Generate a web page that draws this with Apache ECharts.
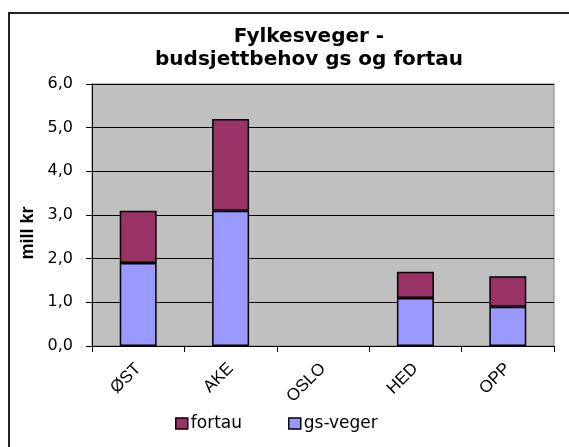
<!DOCTYPE html>
<html>
<head>
<meta charset="utf-8">
<script src="https://cdn.jsdelivr.net/npm/echarts@6/dist/echarts.min.js"></script>
<style>
html,body{margin:0;padding:0;background:#fff;}
#c{width:569px;height:447px;}
</style>
</head>
<body>
<div id="c"></div>
<script>
var categories = ['ØST', 'AKE', 'OSLO', 'HED', 'OPP'];
var gsVeger = [1.9, 3.1, null, 1.1, 0.9];
var fortau = [1.2, 2.1, null, 0.6, 0.7];
var seriesNames = ['fortau', 'gs-veger'];
var titleText = 'Fylkesveger -\nbudsjettbehov gs og fortau';
var yAxisName = 'mill kr';

var chart = echarts.init(document.getElementById('c'), null, {renderer: 'canvas'});
chart.setOption({
  animation: false,
  backgroundColor: '#fff',
  graphic: [{
    type: 'rect',
    shape: {x: 9, y: 13, width: 620, height: 500},
    style: {fill: 'none', stroke: '#222', lineWidth: 2},
    silent: true, z: 100
  }],
  title: {
    text: titleText,
    left: 309,
    top: 25,
    padding: 0,
    textAlign: 'center',
    textStyle: {
      fontFamily: 'DejaVu Sans',
      fontWeight: 'bold',
      fontSize: 20,
      lineHeight: 23,
      color: '#000'
    }
  },
  legend: {
    data: seriesNames,
    left: 170,
    top: 410,
    itemWidth: 12,
    itemHeight: 11,
    itemGap: 46,
    icon: 'rect',
    textStyle: {fontFamily: 'DejaVu Sans', fontSize: 17, color: '#000', padding: [0, 0, 0, -2]},
    itemStyle: {borderColor: '#000', borderWidth: 1.5}
  },
  grid: {
    left: 92, right: 15, top: 84, bottom: 101,
    show: true,
    backgroundColor: '#C0C0C0',
    borderColor: '#808080',
    borderWidth: 1
  },
  xAxis: {
    type: 'category',
    data: categories,
    boundaryGap: true,
    axisLine: {lineStyle: {color: '#000', width: 1}},
    axisTick: {show: true, length: 6, lineStyle: {color: '#000'}},
    axisLabel: {
      rotate: 45,
      margin: 20,
      fontFamily: 'Liberation Sans',
      fontSize: 17,
      color: '#000'
    }
  },
  yAxis: {
    type: 'value',
    min: 0, max: 6, interval: 1,
    name: yAxisName,
    nameLocation: 'middle',
    nameRotate: 90,
    nameGap: 52,
    nameTextStyle: {
      fontFamily: 'Liberation Sans',
      fontWeight: 'bold',
      fontSize: 18,
      color: '#000',
      padding: [0, 36, 0, 0]
    },
    axisLine: {show: true, lineStyle: {color: '#000', width: 1}},
    axisTick: {show: true, length: 6, lineStyle: {color: '#000'}},
    axisLabel: {
      margin: 19,
      fontFamily: 'DejaVu Sans',
      fontSize: 16,
      color: '#000',
      formatter: function (v) { return v.toFixed(1).replace('.', ','); }
    },
    splitLine: {show: true, lineStyle: {color: '#000', width: 1}}
  },
  series: [
    {
      name: 'gs-veger',
      type: 'bar',
      stack: 'total',
      data: gsVeger,
      barWidth: '40%',
      itemStyle: {color: '#9999FF', borderColor: '#000', borderWidth: 1.5}
    },
    {
      name: 'fortau',
      type: 'bar',
      stack: 'total',
      data: fortau,
      barWidth: '40%',
      itemStyle: {color: '#993366', borderColor: '#000', borderWidth: 1.5}
    }
  ]
});
</script>
</body>
</html>
